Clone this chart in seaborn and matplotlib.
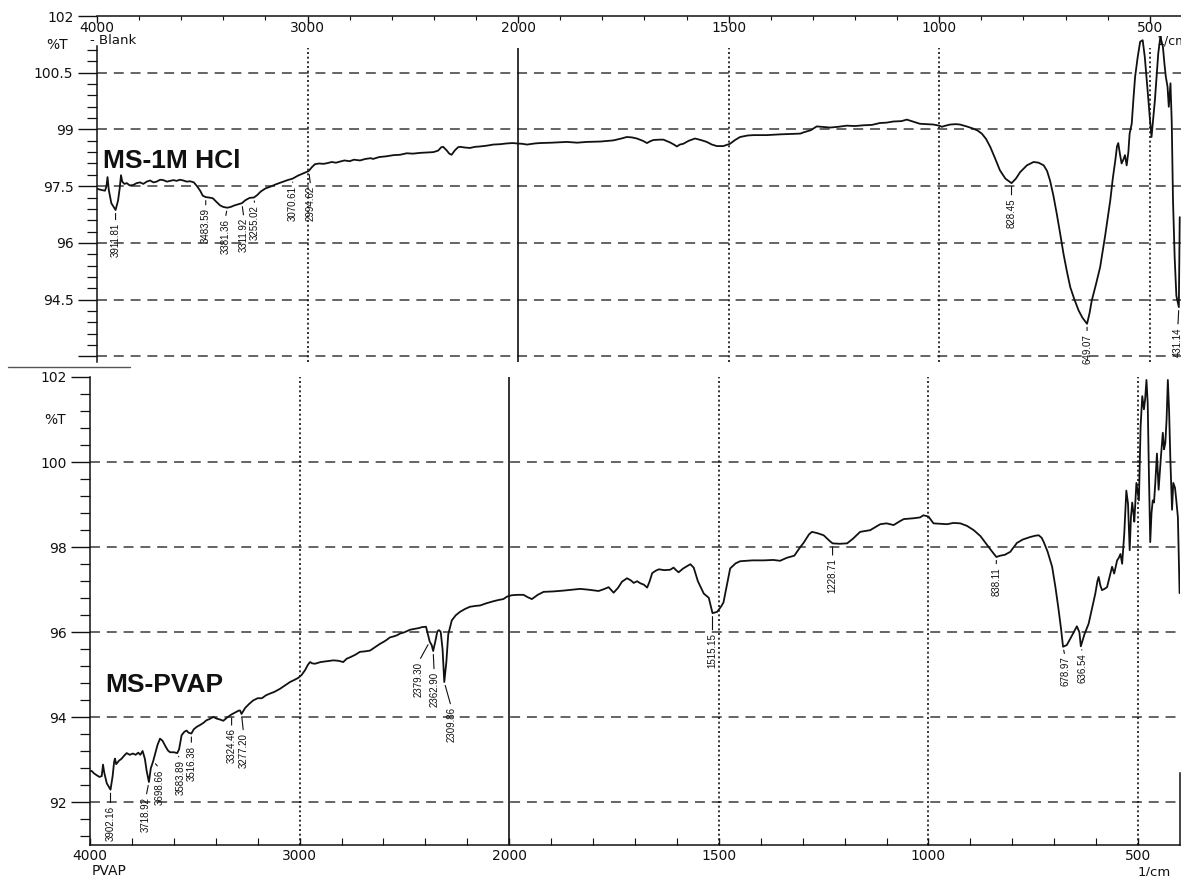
import numpy as np
import pandas as pd
import matplotlib
matplotlib.use("Agg")
import matplotlib.pyplot as plt
from matplotlib.ticker import FixedLocator, FixedFormatter
from matplotlib.lines import Line2D
import seaborn as sns

# ---------------- spectra ----------------
hcl_wavenumber = [
    4000, 3980, 3962, 3955, 3950, 3944, 3932, 3911.81, 3900, 3892, 3886, 3880, 3870,
    3858, 3845, 3828, 3812, 3796, 3780, 3764, 3748, 3732, 3717, 3700, 3685, 3668,
    3653, 3637, 3622, 3606, 3590, 3574, 3558, 3540, 3525, 3510, 3498, 3483.59, 3468,
    3450, 3432, 3415, 3400, 3381.36, 3365, 3348, 3330, 3311.92, 3295, 3275, 3255.02,
    3240, 3222, 3200, 3175, 3150, 3120, 3095, 3070.61, 3045, 3020, 2994.62, 2980,
    2965, 2945, 2925, 2905, 2885, 2865, 2846, 2825, 2800, 2780, 2751, 2725, 2700,
    2689, 2660, 2625, 2593, 2561, 2529, 2500, 2466, 2430, 2403, 2380, 2365, 2356,
    2340, 2327, 2316, 2300, 2285, 2276, 2250, 2229, 2205, 2181, 2150, 2118, 2085,
    2054, 2025, 2007, 1990, 1979, 1960, 1948, 1920, 1884, 1860, 1837, 1805, 1774,
    1755, 1742, 1730, 1718, 1704, 1694, 1686, 1679, 1665, 1655, 1640, 1630, 1623,
    1616, 1608, 1595, 1580, 1566, 1552, 1540, 1528, 1513, 1497, 1485, 1473, 1455,
    1441, 1410, 1378, 1350, 1330, 1323, 1305, 1291, 1259, 1240, 1220, 1200, 1180,
    1160, 1141, 1125, 1109, 1090, 1077, 1060, 1046, 1030, 1014, 1000, 994, 985, 974,
    960, 951, 935, 919, 909, 899, 889, 879, 868, 856, 843, 828.45, 818, 808, 792,
    776, 764, 752, 744, 737, 729, 721, 713, 705, 697, 689, 679, 669, 660, 649.07,
    643, 638, 628, 618, 606, 594, 588, 582, 578, 575, 571, 567, 563, 559, 555, 551,
    548, 543, 539, 535, 529, 523, 517, 512, 508, 504, 500, 496, 492, 488, 484, 480,
    475, 469, 465, 462, 458, 455, 451, 448, 445, 441, 437, 431.14, 429,
]
hcl_transmittance = [
    97.43, 97.40, 97.38, 97.50, 97.74, 97.40, 97.05, 96.87, 97.12, 97.45, 97.79, 97.62, 97.56,
    97.58, 97.52, 97.53, 97.58, 97.60, 97.56, 97.62, 97.65, 97.60, 97.62, 97.67, 97.66, 97.62,
    97.64, 97.66, 97.64, 97.67, 97.65, 97.62, 97.63, 97.60, 97.50, 97.38, 97.25, 97.21, 97.20,
    97.18, 97.08, 96.99, 96.95, 96.93, 96.95, 96.99, 97.02, 97.05, 97.13, 97.19, 97.20,
    97.26, 97.36, 97.44, 97.49, 97.55, 97.61, 97.66, 97.70, 97.78, 97.84, 97.90, 98.00,
    98.08, 98.10, 98.09, 98.11, 98.14, 98.12, 98.15, 98.18, 98.16, 98.20, 98.18, 98.22, 98.24,
    98.22, 98.27, 98.29, 98.32, 98.33, 98.37, 98.36, 98.38, 98.39, 98.40, 98.44, 98.53, 98.54,
    98.45, 98.36, 98.33, 98.45, 98.53, 98.54, 98.52, 98.51, 98.54, 98.55, 98.57, 98.60, 98.61,
    98.63, 98.64, 98.63, 98.62, 98.60, 98.63, 98.64, 98.65, 98.67, 98.65, 98.67, 98.68, 98.71,
    98.76, 98.80, 98.79, 98.76, 98.70, 98.64, 98.69, 98.72, 98.73, 98.73, 98.66, 98.60, 98.55,
    98.60, 98.62, 98.70, 98.76, 98.72, 98.67, 98.60, 98.56, 98.56, 98.62, 98.72, 98.80, 98.84,
    98.85, 98.85, 98.87, 98.88, 98.89, 98.92, 98.98, 99.08, 99.05, 99.07, 99.10, 99.09, 99.11,
    99.12, 99.17, 99.18, 99.21, 99.22, 99.26, 99.20, 99.15, 99.14, 99.13, 99.10, 99.07, 99.10, 99.13,
    99.14, 99.13, 99.08, 99.02, 98.97, 98.89, 98.75, 98.54, 98.25, 97.92, 97.70, 97.58, 97.70, 97.87, 98.05,
    98.14, 98.12, 98.05, 97.90, 97.65, 97.25, 96.77, 96.25, 95.71, 95.25, 94.83, 94.50, 94.21, 94.02, 93.86,
    94.15, 94.47, 94.90, 95.36, 96.20, 97.12, 97.70, 98.18, 98.55, 98.64, 98.35, 98.10, 98.20, 98.32, 98.05, 98.40,
    98.89, 99.15, 99.80, 100.39, 100.90, 101.32, 101.36, 100.92, 100.40, 99.86, 99.30, 98.80, 99.30, 99.77, 100.40, 101.01,
    101.45, 101.19, 100.70, 100.39, 100.13, 99.60, 100.22, 99.20, 97.12, 95.60, 94.60, 94.30, 96.68,
]

pvap_wavenumber = [
    4000, 3992, 3980, 3968, 3955, 3944, 3938, 3932, 3920, 3902.16, 3892, 3885, 3881,
    3875, 3862, 3849, 3837, 3825, 3810, 3795, 3782, 3770, 3760, 3749, 3738, 3730,
    3718.92, 3710, 3698.66, 3690, 3678, 3666, 3654, 3640, 3628, 3618, 3600, 3583.89,
    3575, 3563, 3550, 3539, 3530, 3516.38, 3505, 3490, 3475, 3459, 3445, 3430, 3412,
    3395, 3380, 3364, 3345, 3324.46, 3305, 3290, 3284, 3277.20, 3260, 3240, 3221,
    3200, 3180, 3160, 3141, 3120, 3094, 3070, 3046, 3025, 3006, 2990, 2974, 2960,
    2950, 2940, 2927, 2900, 2870, 2839, 2815, 2792, 2775, 2760, 2735, 2712, 2690,
    2664, 2640, 2616, 2601, 2585, 2569, 2553, 2535, 2521, 2500, 2473, 2450, 2430,
    2417, 2397, 2388, 2379.30, 2370, 2362.90, 2352, 2343, 2335, 2327, 2318, 2309.86,
    2300, 2291, 2274, 2255, 2235, 2210, 2187, 2160, 2139, 2110, 2075, 2050, 2028,
    2010, 1994, 1980, 1966, 1955, 1946, 1932, 1918, 1895, 1870, 1850, 1831, 1810,
    1787, 1775, 1763, 1751, 1740, 1731, 1719, 1710, 1703, 1695, 1687, 1679, 1671,
    1665, 1659, 1650, 1643, 1630, 1616, 1608, 1602, 1596, 1585, 1568, 1560, 1550,
    1536, 1524, 1515.15, 1504, 1495, 1489, 1480, 1473, 1460, 1449, 1420, 1393, 1370,
    1354, 1338, 1320, 1306, 1298, 1285, 1278, 1265, 1250, 1235, 1228.71, 1212, 1194,
    1180, 1163, 1139, 1115, 1100, 1083, 1070, 1059, 1035, 1020, 1012, 1000, 988,
    970, 956, 940, 924, 908, 892, 876, 860, 850, 838.11, 829, 818, 805, 789, 775,
    757, 745, 737, 730, 725, 716, 705, 697, 690, 684, 678.97, 670, 660, 646, 640,
    636.54, 628, 618, 610, 602, 597, 594, 590, 586, 580, 574, 568, 562, 557, 550,
    546, 542, 538, 533, 528, 524, 520, 517, 514, 511, 509, 504, 498, 494, 490, 486,
    483, 480, 477, 474, 471, 468, 465, 462, 459, 455, 451, 446, 441, 438, 435, 432,
    429, 426, 423, 419, 416, 412, 409, 405, 401,
]
pvap_transmittance = [
    92.74, 92.74, 92.68, 92.64, 92.60, 92.62, 92.89, 92.70, 92.45, 92.30, 92.62, 92.95, 93.03,
    92.90, 92.98, 93.03, 93.10, 93.16, 93.12, 93.15, 93.12, 93.17, 93.12, 93.21, 93.02, 92.75,
    92.48, 92.80, 92.97, 93.13, 93.35, 93.50, 93.45, 93.32, 93.22, 93.18, 93.18, 93.16,
    93.25, 93.58, 93.66, 93.69, 93.64, 93.62, 93.72, 93.78, 93.82, 93.87, 93.93, 93.96, 94.01,
    93.97, 93.95, 93.92, 94.00, 94.07, 94.12, 94.16, 94.16, 94.08, 94.22, 94.32, 94.40,
    94.45, 94.45, 94.52, 94.56, 94.60, 94.67, 94.75, 94.83, 94.88, 94.93, 95.00, 95.11, 95.24,
    95.30, 95.27, 95.26, 95.30, 95.32, 95.34, 95.33, 95.30, 95.38, 95.41, 95.47, 95.54, 95.55,
    95.57, 95.65, 95.73, 95.77, 95.82, 95.88, 95.90, 95.93, 95.97, 96.00, 96.06, 96.08, 96.10,
    96.12, 96.13, 95.95, 95.78, 95.70, 95.56, 95.80, 96.02, 96.05, 96.01, 95.60, 94.83,
    95.30, 95.95, 96.28, 96.40, 96.48, 96.55, 96.60, 96.62, 96.63, 96.68, 96.73, 96.76, 96.78,
    96.84, 96.87, 96.88, 96.88, 96.82, 96.78, 96.88, 96.95, 96.96, 96.98, 97.00, 97.02, 97.00,
    96.97, 97.01, 97.06, 96.93, 97.05, 97.19, 97.27, 97.22, 97.16, 97.20, 97.15, 97.12, 97.05,
    97.20, 97.39, 97.45, 97.48, 97.46, 97.47, 97.52, 97.46, 97.41, 97.50, 97.60, 97.52, 97.20,
    96.91, 96.81, 96.45, 96.48, 96.60, 96.70, 97.15, 97.50, 97.62, 97.67, 97.69, 97.69, 97.70,
    97.68, 97.75, 97.80, 98.00, 98.10, 98.30, 98.36, 98.33, 98.28, 98.14, 98.09, 98.08, 98.09,
    98.20, 98.36, 98.40, 98.54, 98.56, 98.52, 98.60, 98.66, 98.68, 98.70, 98.75, 98.72, 98.56,
    98.55, 98.54, 98.57, 98.56, 98.50, 98.40, 98.26, 98.05, 97.92, 97.77, 97.80, 97.82, 97.89, 98.10, 98.18,
    98.24, 98.27, 98.28, 98.22, 98.12, 97.90, 97.54, 97.05, 96.56, 96.10, 95.66, 95.70, 95.88, 96.14, 96.00,
    95.67, 95.95, 96.20, 96.55, 96.91, 97.20, 97.30, 97.10, 96.99, 97.02, 97.06, 97.30, 97.54, 97.38, 97.69,
    97.75, 97.84, 97.61, 98.31, 99.33, 99.02, 97.93, 98.70, 99.05, 98.80, 98.60, 99.51, 99.10, 100.84, 101.55, 101.24,
    101.50, 101.93, 101.38, 99.65, 98.12, 98.80, 99.10, 99.05, 99.50, 100.20, 99.35, 100.06, 100.69, 100.30, 100.45, 101.00,
    101.93, 101.20, 100.06, 98.88, 99.51, 99.40, 99.12, 98.70, 96.92,
]

# ---------------- peak labels ----------------
hcl_peaks = [3911.81, 3483.59, 3381.36, 3311.92, 3255.02, 3070.61, 2994.62,
             828.45, 649.07, 431.14]
pvap_peaks = [3902.16, 3718.92, 3698.66, 3583.89, 3516.38, 3324.46, 3277.20,
              2379.30, 2362.90, 2309.86, 1515.15, 1228.71, 838.11, 678.97, 636.54]

# label placement below the trace (pixels down, pixels sideways)
hcl_label_drop = [13, 11, 11, 15, 8, 7, 15, 15, 10, 20]
hcl_label_shift = [0, 0, -2, 2, 1, 0, 2, 0, 0, -1]
pvap_label_drop = [16, 15, 8, 7, 12, 14, 19, 20, 21, 25, 20, 15, 10, 10, 7]
pvap_label_shift = [0, -3, 7, 3, 0, 0, 2, -11, 1, 7, 0, 0, 0, 2, 2]

x_major = [4000, 3000, 2000, 1500, 1000, 500]
x_major_labels = ["4000", "3000", "2000", "1500", "1000", "500"]
hcl_yticks = [93, 94.5, 96, 97.5, 99, 100.5, 102]
hcl_ytick_labels = ["", "94.5", "96", "97.5", "99", "100.5", "102"]
pvap_yticks = [92, 94, 96, 98, 100, 102]
pvap_ytick_labels = ["92", "94", "96", "98", "100", "102"]


# wavenumber axis: 4000-2000 compressed to half the spacing of 2000-400
def _fwd(x):
    x = np.asarray(x, dtype=float)
    return np.where(x > 2000, 2000 + (x - 2000) / 2.0, x)


def _inv(u):
    u = np.asarray(u, dtype=float)
    return np.where(u > 2000, 2000 + (u - 2000) * 2.0, u)


sns.set_theme(style="white")
plt.rcParams["font.family"] = ["DejaVu Sans"]
plt.rcParams["axes.linewidth"] = 1.1

W, H = 1181, 876
fig = plt.figure(figsize=(W / 100, H / 100), dpi=100)
fig.patch.set_facecolor("white")

ax_top = fig.add_axes([97 / W, 1 - 362 / H, (W - 97) / W, 346 / H])
ax_bot = fig.add_axes([90 / W, 1 - 845 / H, (1180 - 90) / W, 468 / H])

INK = "#111111"
GRID = "#3a3a3a"
LABEL_FONT = ["Liberation Sans", "DejaVu Sans"]
TICK_SIZE = 10


def minor_x(lo):
    upper = [v for v in range(3800, 2000, -200) if v not in x_major]
    lower = [v for v in range(1900, lo, -100) if v not in x_major]
    return upper + lower


def draw_spectrum(ax, wn, tr, xlim, ylim, yticks, ylabels, yminor, vtop):
    ax.set_xscale("function", functions=(_fwd, _inv))
    df = pd.DataFrame({"wavenumber": wn, "T": tr})
    sns.lineplot(data=df, x="wavenumber", y="T", ax=ax, color=INK,
                 linewidth=1.3, estimator=None, sort=False, zorder=5)
    ax.set_xlim(*xlim)
    ax.set_ylim(*ylim)
    ax.set_xlabel("")
    ax.set_ylabel("")
    ax.set_facecolor("white")

    # dashed horizontal grid
    grid_y = [v for v in yticks if ylim[0] < v < 102]
    ax.hlines(grid_y, xlim[0], xlim[1], colors=GRID, linewidth=1.1,
              linestyles=[(0, (6.5, 4.5))], zorder=1)
    # dotted verticals, solid line at the scale break
    ax.vlines([3000, 1500, 1000, 500], ylim[0], vtop, colors=INK,
              linewidth=1.2, linestyles=[(0, (1.2, 1.6))], zorder=1)
    ax.vlines([2000], ylim[0], vtop, colors=INK, linewidth=1.2, zorder=1)

    ax.yaxis.set_major_locator(FixedLocator(yticks))
    ax.yaxis.set_major_formatter(FixedFormatter(ylabels))
    ax.yaxis.set_minor_locator(FixedLocator(yminor))
    ax.xaxis.set_major_locator(FixedLocator(x_major))
    ax.xaxis.set_major_formatter(FixedFormatter(x_major_labels))
    ax.xaxis.set_minor_locator(FixedLocator(minor_x(int(xlim[1]))))
    ax.tick_params(axis="y", which="major", direction="out", length=14,
                   width=1.0, color=INK, pad=3, labelsize=TICK_SIZE,
                   labelcolor=INK, left=True)
    ax.tick_params(axis="y", which="minor", direction="out", length=7,
                   width=0.9, color=INK, left=True)


def annotate_peaks(ax, wn, tr, peaks, drops, shifts):
    wn_a = np.asarray(wn)[::-1]
    tr_a = np.asarray(tr)[::-1]
    for p, d, s in zip(peaks, drops, shifts):
        y = float(np.interp(p, wn_a, tr_a))
        ax.annotate(f"{p:.2f}", xy=(p, y), xytext=(s, -d),
                    textcoords="offset pixels", rotation=90, ha="center",
                    va="top", fontsize=7, family=LABEL_FONT, color=INK,
                    zorder=6,
                    arrowprops=dict(arrowstyle="-", color=INK, lw=0.8,
                                    relpos=(0.5, 1.0), shrinkA=0, shrinkB=2.5))


# ---- upper panel: MS-1M HCl ----
hcl_minor = [round(v, 2) for v in np.arange(93.3, 101.2, 0.3)
             if round(v, 2) not in hcl_yticks]
draw_spectrum(ax_top, hcl_wavenumber, hcl_transmittance, (4000, 426),
              (92.85, 102), hcl_yticks, hcl_ytick_labels, hcl_minor, 101.15)
ax_top.spines["left"].set_bounds(92.85, 101.2)
ax_top.spines["right"].set_visible(False)
ax_top.spines["bottom"].set_visible(False)
ax_top.spines["top"].set_visible(True)
ax_top.xaxis.set_ticks_position("top")
ax_top.tick_params(axis="x", which="major", direction="in", length=5,
                   width=1.0, color=INK, top=True, bottom=False,
                   labeltop=True, labelbottom=False, pad=-14,
                   labelsize=TICK_SIZE, labelcolor=INK)
ax_top.tick_params(axis="x", which="minor", direction="in", length=3,
                   width=0.8, color=INK, top=True, bottom=False)
annotate_peaks(ax_top, hcl_wavenumber, hcl_transmittance, hcl_peaks,
               hcl_label_drop, hcl_label_shift)

# ---- lower panel: MS-PVAP ----
pvap_minor = [round(v, 2) for v in np.arange(91.2, 102, 0.4)
              if round(v, 2) not in pvap_yticks]
draw_spectrum(ax_bot, pvap_wavenumber, pvap_transmittance, (4000, 400),
              (91, 102), pvap_yticks, pvap_ytick_labels, pvap_minor, 102)
ax_bot.spines["top"].set_visible(False)
ax_bot.spines["right"].set_bounds(91, 92.7)
ax_bot.xaxis.set_ticks_position("bottom")
ax_bot.tick_params(axis="x", which="major", direction="in", length=5,
                   width=1.0, color=INK, bottom=True, top=False, pad=3,
                   labelsize=TICK_SIZE, labelcolor=INK)
ax_bot.tick_params(axis="x", which="minor", direction="in", length=5,
                   width=0.8, color=INK, bottom=True, top=False)
annotate_peaks(ax_bot, pvap_wavenumber, pvap_transmittance, pvap_peaks,
               pvap_label_drop, pvap_label_shift)

for ax in (ax_top, ax_bot):
    for sp in ax.spines.values():
        sp.set_color(INK)

# ---- sample names and axis captions ----
TITLE_FONT = ["Liberation Sans", "DejaVu Sans"]
fig.text(103 / W, 1 - 168 / H, "MS-1M HCl", family=TITLE_FONT,
         fontweight="bold", fontsize=19, color=INK, va="baseline", ha="left")
fig.text(105 / W, 1 - 692 / H, "MS-PVAP", family=TITLE_FONT,
         fontweight="bold", fontsize=19, color=INK, va="baseline", ha="left")

fig.text(57 / W, 1 - 45 / H, "%T", fontsize=10, color=INK, ha="center", va="center")
fig.text(55 / W, 1 - 420 / H, "%T", fontsize=10, color=INK, ha="center", va="center")
fig.text(90 / W, 1 - 41 / H, "- Blank", fontsize=9.5, color=INK, ha="left", va="center")
fig.text(1157 / W, 1 - 41 / H, "1/cm", fontsize=9, color=INK, ha="left", va="center")
fig.text(1138 / W, 1 - 872 / H, "1/cm", fontsize=9.5, color=INK, ha="left", va="center")
fig.text(92 / W, 1 - 871 / H, "PVAP", fontsize=10, color=INK, ha="left", va="center")

fig.add_artist(Line2D([8 / W, 130 / W], [1 - 367 / H] * 2, color="#555555",
                      linewidth=1.0))

fig.savefig("out.png", dpi=100, facecolor="white")
